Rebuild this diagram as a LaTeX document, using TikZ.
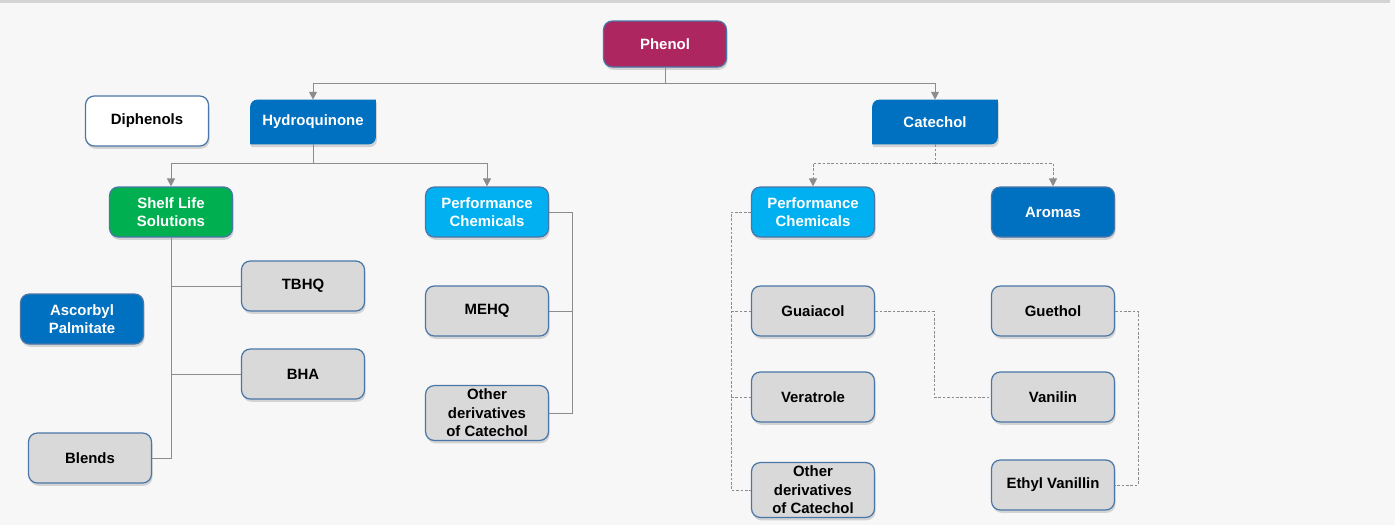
\documentclass[tikz,border=0pt]{standalone}
\usepackage{fontspec}
\setmainfont{Liberation Sans}
\usetikzlibrary{arrows.meta,shadows,backgrounds}

\definecolor{pagegray}{HTML}{F7F7F7}
\definecolor{rulegray}{HTML}{D4D4D4}
\definecolor{phenolred}{RGB}{173,38,96}
\definecolor{darkblue}{HTML}{0070C0}
\definecolor{lightblue}{HTML}{00B0F0}
\definecolor{leafgreen}{HTML}{00B050}
\definecolor{boxgray}{HTML}{D9D9D9}
\definecolor{edgeblue}{HTML}{4A76A8}
\definecolor{linkgray}{HTML}{8C8C8C}

\tikzset{
  soft/.style={drop shadow={shadow xshift=0.6pt, shadow yshift=-1.6pt, opacity=0.3}},
  box/.style={draw=edgeblue, line width=0.7pt, rounded corners=5pt, soft,
    minimum width=2.46cm, minimum height=1cm, inner sep=2pt, align=center,
    font=\fontsize{8.5}{10.5}\selectfont\bfseries},
  item/.style={box, fill=boxgray, text=black},
  head/.style={box, text=white},
  tab/.style={minimum width=2.5cm, minimum height=0.88cm, inner sep=2pt,
    text=white, font=\fontsize{8.5}{10.5}\selectfont\bfseries},
  link/.style={draw=linkgray, line width=0.5pt},
  dlink/.style={link, dash pattern=on 1.5pt off 1pt},
  tip/.style={-{Triangle[width=4.5pt,length=4.5pt]}}
}

\begin{document}
\begin{tikzpicture}[x=0.02cm, y=0.02cm]
  \useasboundingbox (0,0) rectangle (1395,-525);

  % top of the tree
  \node (P) [head, fill=phenolred, minimum height=0.92cm] at (665,-44) {Phenol};
  \node (D) [box, fill=white] at (147,-121) {Diphenols};
  \node (H) [tab] at (313,-122) {Hydroquinone};
  \node (C) [tab] at (935,-122) {Catechol};

  % hydroquinone side
  \node (S) [head, fill=leafgreen] at (171,-212) {Shelf Life\\Solutions};
  \node (PL) [head, fill=lightblue] at (487,-212) {Performance\\Chemicals};
  \node (T) [item] at (303,-286) {TBHQ};
  \node (AP) [head, fill=darkblue] at (82,-319) {Ascorbyl\\Palmitate};
  \node (B) [item] at (303,-374) {BHA};
  \node (Bl) [item] at (90,-458) {Blends};
  \node (M) [item] at (487,-311) {MEHQ};
  \node (O1) [item] at (487,-413) {Other\\derivatives\\of Catechol};

  % catechol side
  \node (PR) [head, fill=lightblue] at (813,-212) {Performance\\Chemicals};
  \node (A) [head, fill=darkblue] at (1053,-212) {Aromas};
  \node (G) [item] at (813,-311) {Guaiacol};
  \node (V) [item] at (813,-397) {Veratrole};
  \node (O2) [item] at (813,-490) {Other\\derivatives\\of Catechol};
  \node (Gu) [item] at (1053,-311) {Guethol};
  \node (Va) [item] at (1053,-397) {Vanilin};
  \node (EV) [item] at (1053,-485) {Ethyl Vanillin};

  \begin{scope}[on background layer]
    \fill[pagegray] (0,0) rectangle (1395,-525);
    \fill[rulegray] (0,0) rectangle (1390,-2.5);
    \foreach \n in {H,C}
      \fill[darkblue, soft] (\n.north east) -- ([xshift=4pt]\n.north west)
        arc[start angle=90, end angle=180, radius=4pt] -- (\n.south west)
        -- ([xshift=-4pt]\n.south east)
        arc[start angle=270, end angle=360, radius=4pt] -- cycle;
  \end{scope}

  \coordinate (pj) at (665,-83);
  \coordinate (hj) at (313,-163);
  \coordinate (cj) at (935,-163);
  \coordinate (pr) at (572,-212);
  \coordinate (pl) at (731,-212);

  \draw[link] (P) -- (pj);
  \draw[link, tip] (pj) -| (H.north);
  \draw[link, tip] (pj) -| (C.north);

  \draw[link] (H) -- (hj);
  \draw[link, tip] (hj) -| (S.north);
  \draw[link, tip] (hj) -| (PL.north);
  \draw[link] (S.south) |- (Bl.east);
  \draw[link] (S.south |- T.west) -- (T.west);
  \draw[link] (S.south |- B.west) -- (B.west);
  \draw[link] (PL.east) -- (pr) |- (O1.east);
  \draw[link] (pr |- M.east) -- (M.east);

  \draw[dlink] (C) -- (cj);
  \draw[dlink, tip] (cj) -| (PR.north);
  \draw[dlink, tip] (cj) -| (A.north);
  \draw[dlink] (PR.west) -- (pl) |- (O2.west);
  \draw[dlink] (pl |- G.west) -- (G.west);
  \draw[dlink] (pl |- V.west) -- (V.west);
  \draw[dlink] (G.east) -- ++(59,0) |- (Va.west);
  \draw[dlink] (Gu.east) -- ++(23,0) |- (EV.east);
\end{tikzpicture}
\end{document}
